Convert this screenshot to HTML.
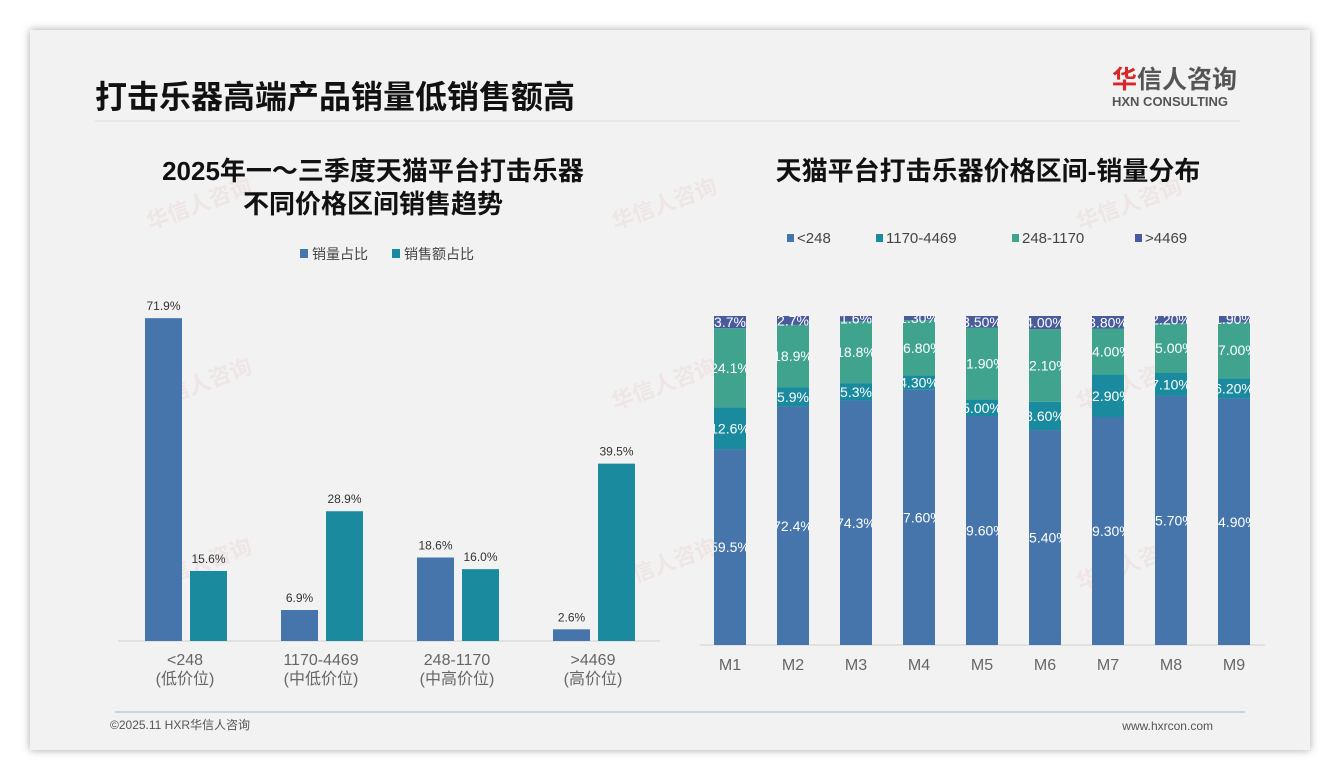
<!DOCTYPE html>
<html><head><meta charset="utf-8">
<style>
body{margin:0;width:1340px;height:780px;background:#fff;font-family:"Liberation Sans","Noto Sans CJK SC",sans-serif;overflow:hidden}
#card{position:absolute;left:30px;top:30px;width:1280px;height:720px;background:#f2f2f2;box-shadow:0 0 8px rgba(0,0,0,.35)}
</style></head><body>
<div id="card"></div>
<svg width="1340" height="780" style="position:absolute;left:0;top:0">
<g font-family="Liberation Sans, Noto Sans CJK SC, sans-serif">
<text x="95" y="108" font-size="32" font-weight="bold" fill="#111">打击乐器高端产品销量低销售额高</text>
<text x="1112" y="88" font-size="25" font-weight="bold" fill="#555"><tspan fill="#d9262a">华</tspan>信人咨询</text>
<text x="1112" y="106" font-size="13" font-weight="bold" fill="#555">HXN CONSULTING</text>
<line x1="95" y1="121" x2="1240" y2="121" stroke="#ddd"/>
<line x1="115" y1="712" x2="1245" y2="712" stroke="#9bb8d8"/>
<text x="110" y="729" font-size="12" fill="#555">©2025.11 HXR华信人咨询</text>
<text x="1213" y="730" font-size="12" fill="#555" text-anchor="end">www.hxrcon.com</text>
<g fill="#e8b8b8" opacity="0.22" font-weight="bold">
<text transform="translate(150,230) rotate(-20)" font-size="22">华信人咨询</text>
<text transform="translate(615,230) rotate(-20)" font-size="22">华信人咨询</text>
<text transform="translate(1080,230) rotate(-20)" font-size="22">华信人咨询</text>
<text transform="translate(150,410) rotate(-20)" font-size="22">华信人咨询</text>
<text transform="translate(615,410) rotate(-20)" font-size="22">华信人咨询</text>
<text transform="translate(1080,410) rotate(-20)" font-size="22">华信人咨询</text>
<text transform="translate(150,590) rotate(-20)" font-size="22">华信人咨询</text>
<text transform="translate(615,590) rotate(-20)" font-size="22">华信人咨询</text>
<text transform="translate(1080,590) rotate(-20)" font-size="22">华信人咨询</text>
</g>
<text x="373" y="180" font-size="26" font-weight="bold" fill="#111" text-anchor="middle">2025年一～三季度天猫平台打击乐器</text>
<text x="373" y="213" font-size="26" font-weight="bold" fill="#111" text-anchor="middle">不同价格区间销售趋势</text>
<text x="988" y="180" font-size="26" font-weight="bold" fill="#111" text-anchor="middle">天猫平台打击乐器价格区间-销量分布</text>
<g id="left" font-size="15"></g>
<g id="right"></g>
</g>
</svg>
<script>
const leftCats=["<248","1170-4469","248-1170",">4469"];
const leftSubs=["(低价位)","(中低价位)","(中高价位)","(高价位)"];
const volShare=[71.9,6.9,18.6,2.6];
const salesShare=[15.6,28.9,16.0,39.5];
const months=["M1","M2","M3","M4","M5","M6","M7","M8","M9"];
const sLow=[59.5,72.4,74.3,77.6,69.6,65.4,69.3,75.7,74.9];
const sMidLow=[12.6,5.9,5.3,4.3,5.0,8.6,12.9,7.1,6.2];
const sMidHigh=[24.1,18.9,18.8,16.8,21.9,22.1,14.0,15.0,17.0];
const sHigh=[3.7,2.7,1.6,1.3,3.5,4.0,3.8,2.2,1.9];
const sLabels=[["59.5%","72.4%","74.3%","77.60%","69.60%","65.40%","69.30%","75.70%","74.90%"],
["12.6%","5.9%","5.3%","4.30%","5.00%","8.60%","12.90%","7.10%","6.20%"],
["24.1%","18.9%","18.8%","16.80%","21.90%","22.10%","14.00%","15.00%","17.00%"],
["3.7%","2.7%","1.6%","1.30%","3.50%","4.00%","3.80%","2.20%","1.90%"]];
const legendL=["销量占比","销售额占比"];
const legendR=["<248","1170-4469","248-1170",">4469"];
const NS="http://www.w3.org/2000/svg";
function mk(p,t,a){const e=document.createElementNS(NS,t);for(const k in a)e.setAttribute(k,a[k]);p.appendChild(e);return e;}
const C=["#4575aa","#1a8a9e","#3fa38e","#4a5b9c"];
const L=document.getElementById('left');
const ly=v=>641-v*4.49, gx=i=>190+i*136;
let ln=mk(L,'line',{x1:118,y1:641,x2:660,y2:641,stroke:'#d0d0d0'});


legendL.forEach((t,i)=>{const x=300+i*92;
 let r=mk(L,'rect',{x:x,y:249,width:8,height:9,fill:C[i]});
 
 
 let tx=mk(L,'text',{x:x+12,y:259,'font-size':14,fill:'#444'});tx.textContent=t;
 
 });
leftCats.forEach((c,i)=>{
 [[volShare[i],gx(i)-45,C[0],'volume'],[salesShare[i],gx(i),C[1],'sales']].forEach(([v,x,col,n])=>{
  let r=mk(L,'rect',{x:x,y:ly(v),width:37,height:641-ly(v),fill:col});
  
  
  let t=mk(L,'text',{x:x+18.5,y:ly(v)-8,'font-size':12,fill:'#333','text-anchor':'middle'});t.textContent=v.toFixed(1)+'%';
  
  
 });
 let t1=mk(L,'text',{x:gx(i)-5,y:665,fill:'#666','text-anchor':'middle','font-size':16});
 t1.textContent=c;
 
 
 let t2=mk(L,'text',{x:gx(i)-5,y:684,fill:'#666','text-anchor':'middle','font-size':16});t2.textContent=leftSubs[i];
 
 
});
const R=document.getElementById('right');
const rx=i=>714+i*63, H=329, base=645;
let ra=mk(R,'line',{x1:700,y1:base,x2:1265,y2:base,stroke:'#d0d0d0'});


const lx=[787,876,1012,1135];
legendR.forEach((t,i)=>{
 let r=mk(R,'rect',{x:lx[i],y:234,width:7,height:8,fill:C[i]});
 
 
 let tx=mk(R,'text',{x:lx[i]+10,y:243,'font-size':15,fill:'#444'});tx.textContent=t;
 
 });
const series=[sLow,sMidLow,sMidHigh,sHigh];
const defs=mk(R,'defs',{});
months.forEach((m,i)=>{
 const tot=series.reduce((s,a)=>s+a[i],0);
 let cp=mk(defs,'clipPath',{id:'cp'+i});mk(cp,'rect',{x:rx(i),y:base-H,width:32,height:H});
 let y=base;
 series.forEach((a,k)=>{
  const h=a[i]/tot*H;
  let r=mk(R,'rect',{x:rx(i),y:y-h,width:32,height:h,fill:C[k]});
  
  
  let t=mk(R,'text',{x:rx(i)+16,y:y-h/2+5,'font-size':14,fill:'#fff','text-anchor':'middle','clip-path':'url(#cp'+i+')'});
  t.textContent=sLabels[k][i];
  
  
  y-=h;
 });
 let t=mk(R,'text',{x:rx(i)+16,y:670,'font-size':16,fill:'#666','text-anchor':'middle'});t.textContent=m;
 
 
});
</script>
</body></html>
